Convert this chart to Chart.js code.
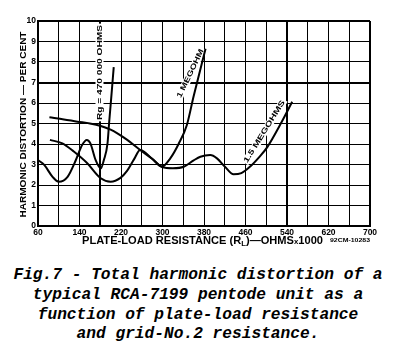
<!DOCTYPE html>
<html><head><meta charset="utf-8">
<script src="https://cdn.jsdelivr.net/npm/chart.js@4/dist/chart.umd.min.js"></script>
<style>
html,body{margin:0;padding:0;background:#fff;}
#wrap{position:relative;width:396px;height:357px;overflow:hidden;background:#fff;}
#cw{position:absolute;left:0;top:0;width:396px;height:246px;}
#cap{position:absolute;left:0;top:266px;width:396px;text-align:center;font:bold italic 16.2px 'Liberation Mono',monospace;line-height:19.8px;color:#000;white-space:pre;}
</style></head><body>
<div id="wrap"><div id="cw"><canvas id="c"></canvas></div>
<div id="cap">Fig.7 - Total harmonic distortion of a
typical RCA-7199 pentode unit as a
function of plate-load resistance
and grid-No.2 resistance.</div></div>
<script>
// Plate-load resistance (kilohms) and harmonic distortion (per cent)
const rg470kX = [60, 72, 88, 100, 117, 133, 145, 154, 161, 171, 181, 187, 194, 197, 201, 206];
const rg470kY = [3.22, 2.98, 2.4, 2.16, 2.4, 3.22, 3.95, 4.2, 4.03, 3.22, 2.81, 3.22, 4.03, 5.0, 6.2, 7.75];

const oneMegX = [82, 110, 136, 160, 181, 200, 213, 232, 257, 280, 299, 315, 331, 347, 360, 383];
const oneMegY = [5.3, 5.2, 5.09, 5.0, 4.88, 4.7, 4.52, 4.2, 3.71, 3.28, 2.9, 3.3, 4.0, 4.93, 6.33, 8.65];

const onePointFiveMegX = [83, 107, 129, 155, 181, 200, 219, 232, 245, 257, 280, 299, 320, 341, 360, 373, 392, 405, 420, 437, 452, 469, 486, 502, 527, 550];
const onePointFiveMegY = [4.2, 4.03, 3.63, 3.06, 2.33, 2.16, 2.35, 2.7, 3.25, 3.71, 3.28, 2.88, 2.82, 2.89, 3.2, 3.38, 3.46, 3.3, 2.9, 2.52, 2.58, 2.9, 3.35, 3.85, 4.95, 6.06];

const xTickLabels = [60, 140, 220, 300, 380, 460, 540, 620, 700];
const yTickLabels = [0, 1, 2, 3, 4, 5, 6, 7, 8, 9, 10];

const curveLabels = ["Rg = 470 000 OHMS", "1 MEGOHM", "1.5 MEGOHMS"];
const yTitle = "HARMONIC DISTORTION \u2014 PER CENT";
const drawingNo = "92CM-10283";

function pts(xs, ys){ return xs.map((x,i)=>({x:x, y:ys[i]})); }

function fitText(ctx, text, cx, cy, w, font, angle, bgH){
  ctx.save();
  ctx.font = font;
  const m = ctx.measureText(text).width;
  ctx.translate(cx, cy);
  ctx.rotate(angle);
  ctx.scale(w/m, 1);
  if (bgH) {
    ctx.fillStyle = '#fff';
    ctx.fillRect(-m/2 - 1, -bgH/2, m + 2, bgH);
  }
  ctx.textAlign = 'center';
  ctx.textBaseline = 'middle';
  ctx.fillStyle = '#000';
  ctx.fillText(text, 0, 0);
  ctx.restore();
}

const textPlugin = {
  id: 'texts',
  beforeDatasetsDraw(chart){
    const ctx = chart.ctx;
    fitText(ctx, curveLabels[0], 99.5, 72.5, 95, "bold 7.5px 'Liberation Sans'", -Math.PI/2, 8);
    fitText(ctx, curveLabels[1], 190.5, 73.5, 53, "bold 7.5px 'Liberation Sans'", Math.atan2(-48.3, 23.3), 8);
    fitText(ctx, curveLabels[2], 264.5, 131.5, 72, "bold 7.5px 'Liberation Sans'", Math.atan2(-61.7, 38.3), 8);
  },
  afterDraw(chart){
    const ctx = chart.ctx;
    fitText(ctx, yTitle, 23.5, 124.5, 186, "bold 9px 'Liberation Sans'", -Math.PI/2);
    const segs = [["PLATE-LOAD RESISTANCE (R",10,0],["L",7,2],[")\u2014OHMS",10,0],["x",7,0.5],["1000",10,0]];
    ctx.save();
    let tot = 0;
    segs.forEach(s=>{ ctx.font = "bold "+s[1]+"px 'Liberation Sans'"; s.push(ctx.measureText(s[0]).width); tot += s[3]; });
    const target = 241, sx = target/tot;
    let x = 202.5 - target/2;
    ctx.textBaseline = 'alphabetic';
    ctx.textAlign = 'left';
    ctx.fillStyle = '#000';
    segs.forEach(s=>{
      ctx.save();
      ctx.font = "bold "+s[1]+"px 'Liberation Sans'";
      ctx.translate(x, 243.5 + s[2]);
      ctx.scale(sx,1);
      ctx.fillText(s[0], 0, 0);
      ctx.restore();
      x += s[3]*sx;
    });
    ctx.restore();
    fitText(ctx, drawingNo, 350, 240.5, 40, "bold 5px 'Liberation Sans'", 0);
  }
};

const lineDs = (label, xs, ys) => ({
  label, data: pts(xs, ys), showLine: true, borderColor: '#000', borderWidth: 2,
  pointRadius: 0, fill: false, cubicInterpolationMode: 'monotone'
});

new Chart(document.getElementById('c'), {
  type: 'scatter',
  data: { datasets: [
    lineDs(curveLabels[0], rg470kX, rg470kY),
    lineDs(curveLabels[1], oneMegX, oneMegY),
    lineDs(curveLabels[2], onePointFiveMegX, onePointFiveMegY)
  ]},
  options: {
    responsive: true, maintainAspectRatio: false, animation: false,
    layout: { padding: { top: 21, right: 26, left: 0, bottom: 0 } },
    plugins: { legend: { display: false }, tooltip: { enabled: false } },
    scales: {
      x: {
        type: 'linear', min: 60, max: 700,
        afterFit(s){ s.height = 20; },
        ticks: { stepSize: 40, autoSkip: false, maxRotation: 0, padding: 2, color: '#000',
          font: { family: "'Liberation Sans'", size: 8.5, weight: 'bold' },
          callback: v => xTickLabels.includes(v) ? String(v) : '' },
        grid: { color: '#000', drawTicks: false,
          lineWidth: c => (c.tick && [180, 540, 700].includes(c.tick.value)) ? 2 : 1 },
        border: { color: '#000', width: 2 }
      },
      y: {
        min: 0, max: 10,
        afterFit(s){ s.width = 38; },
        ticks: { stepSize: 1, padding: 2, color: '#000',
          font: { family: "'Liberation Sans'", size: 8.5, weight: 'bold' },
          callback: v => yTickLabels.includes(v) ? String(v) : '' },
        grid: { color: '#000', drawTicks: false,
          lineWidth: c => (c.tick && [7, 10].includes(c.tick.value)) ? 2 : 1 },
        border: { color: '#000', width: 2 }
      }
    }
  },
  plugins: [textPlugin]
});
</script>
</body></html>
